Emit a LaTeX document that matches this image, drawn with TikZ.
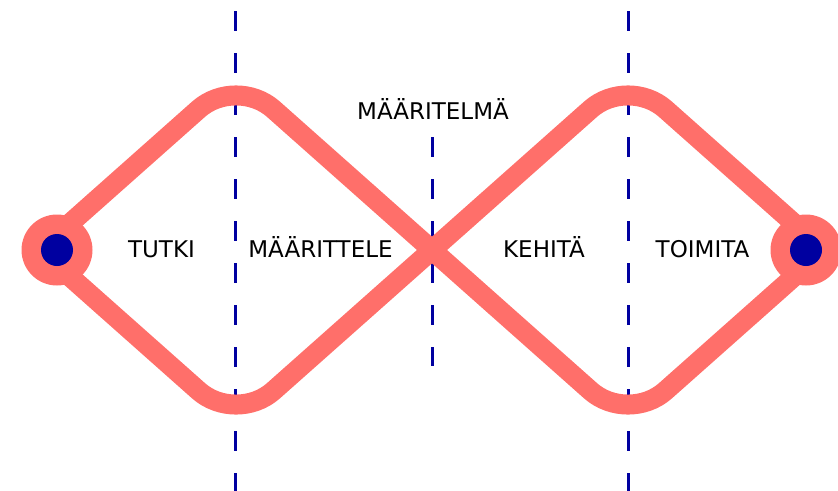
\documentclass[tikz,border=0pt]{standalone}
\usepackage{fontspec}
\setmainfont{DejaVu Sans}
\definecolor{coral}{RGB}{255,111,106}
\definecolor{navy}{RGB}{0,0,160}
\begin{document}
\begin{tikzpicture}[x=1pt,y=-1pt,
  guide/.style={navy,line width=3pt,dash pattern=on 20pt off 22pt},
  band/.style={coral,line width=20pt,rounded corners=50pt},
  endring/.style={circle,fill=coral,minimum size=71pt,inner sep=0pt},
  enddot/.style={circle,fill=navy,minimum size=32pt,inner sep=0pt},
  phase/.style={anchor=base,inner sep=0pt,font=\fontsize{23}{23}\selectfont}]
\useasboundingbox (0,0) rectangle (838,490);

% phase boundaries
\coordinate (g1a) at (235,11);  \coordinate (g1b) at (235,495);
\coordinate (g2a) at (432,137); \coordinate (g2b) at (432,366);
\coordinate (g3a) at (628,11);  \coordinate (g3b) at (628,495);
\draw[guide] (g1a) -- (g1b);
\draw[guide] (g2a) -- (g2b);
\draw[guide] (g3a) -- (g3b);

% double diamond
\coordinate (L)  at (40,250);
\coordinate (T1) at (236,76);
\coordinate (B1) at (236,424);
\coordinate (X)  at (432,250);
\coordinate (T2) at (628,76);
\coordinate (B2) at (628,424);
\coordinate (R)  at (824,250);
\draw[band] (L) -- (T1) -- (B2) -- (R);
\draw[band] (L) -- (B1) -- (T2) -- (R);

% end points
\node[endring] (start) at (57,250) {};
\node[enddot]  (startdot) at (start.center) {};
\node[endring] (finish) at (806,250) {};
\node[enddot]  (finishdot) at (finish.center) {};

% labels
\node[phase] (tutki)    at (161.5,257) {TUTKI};
\node[phase] (maarittele) at (320.5,257) {MÄÄRITTELE};
\node[phase] (kehita)   at (544,257) {KEHITÄ};
\node[phase] (toimita)  at (702.5,257) {TOIMITA};
\node[phase] (maaritelma) at (433,119) {MÄÄRITELMÄ};
\end{tikzpicture}
\end{document}
